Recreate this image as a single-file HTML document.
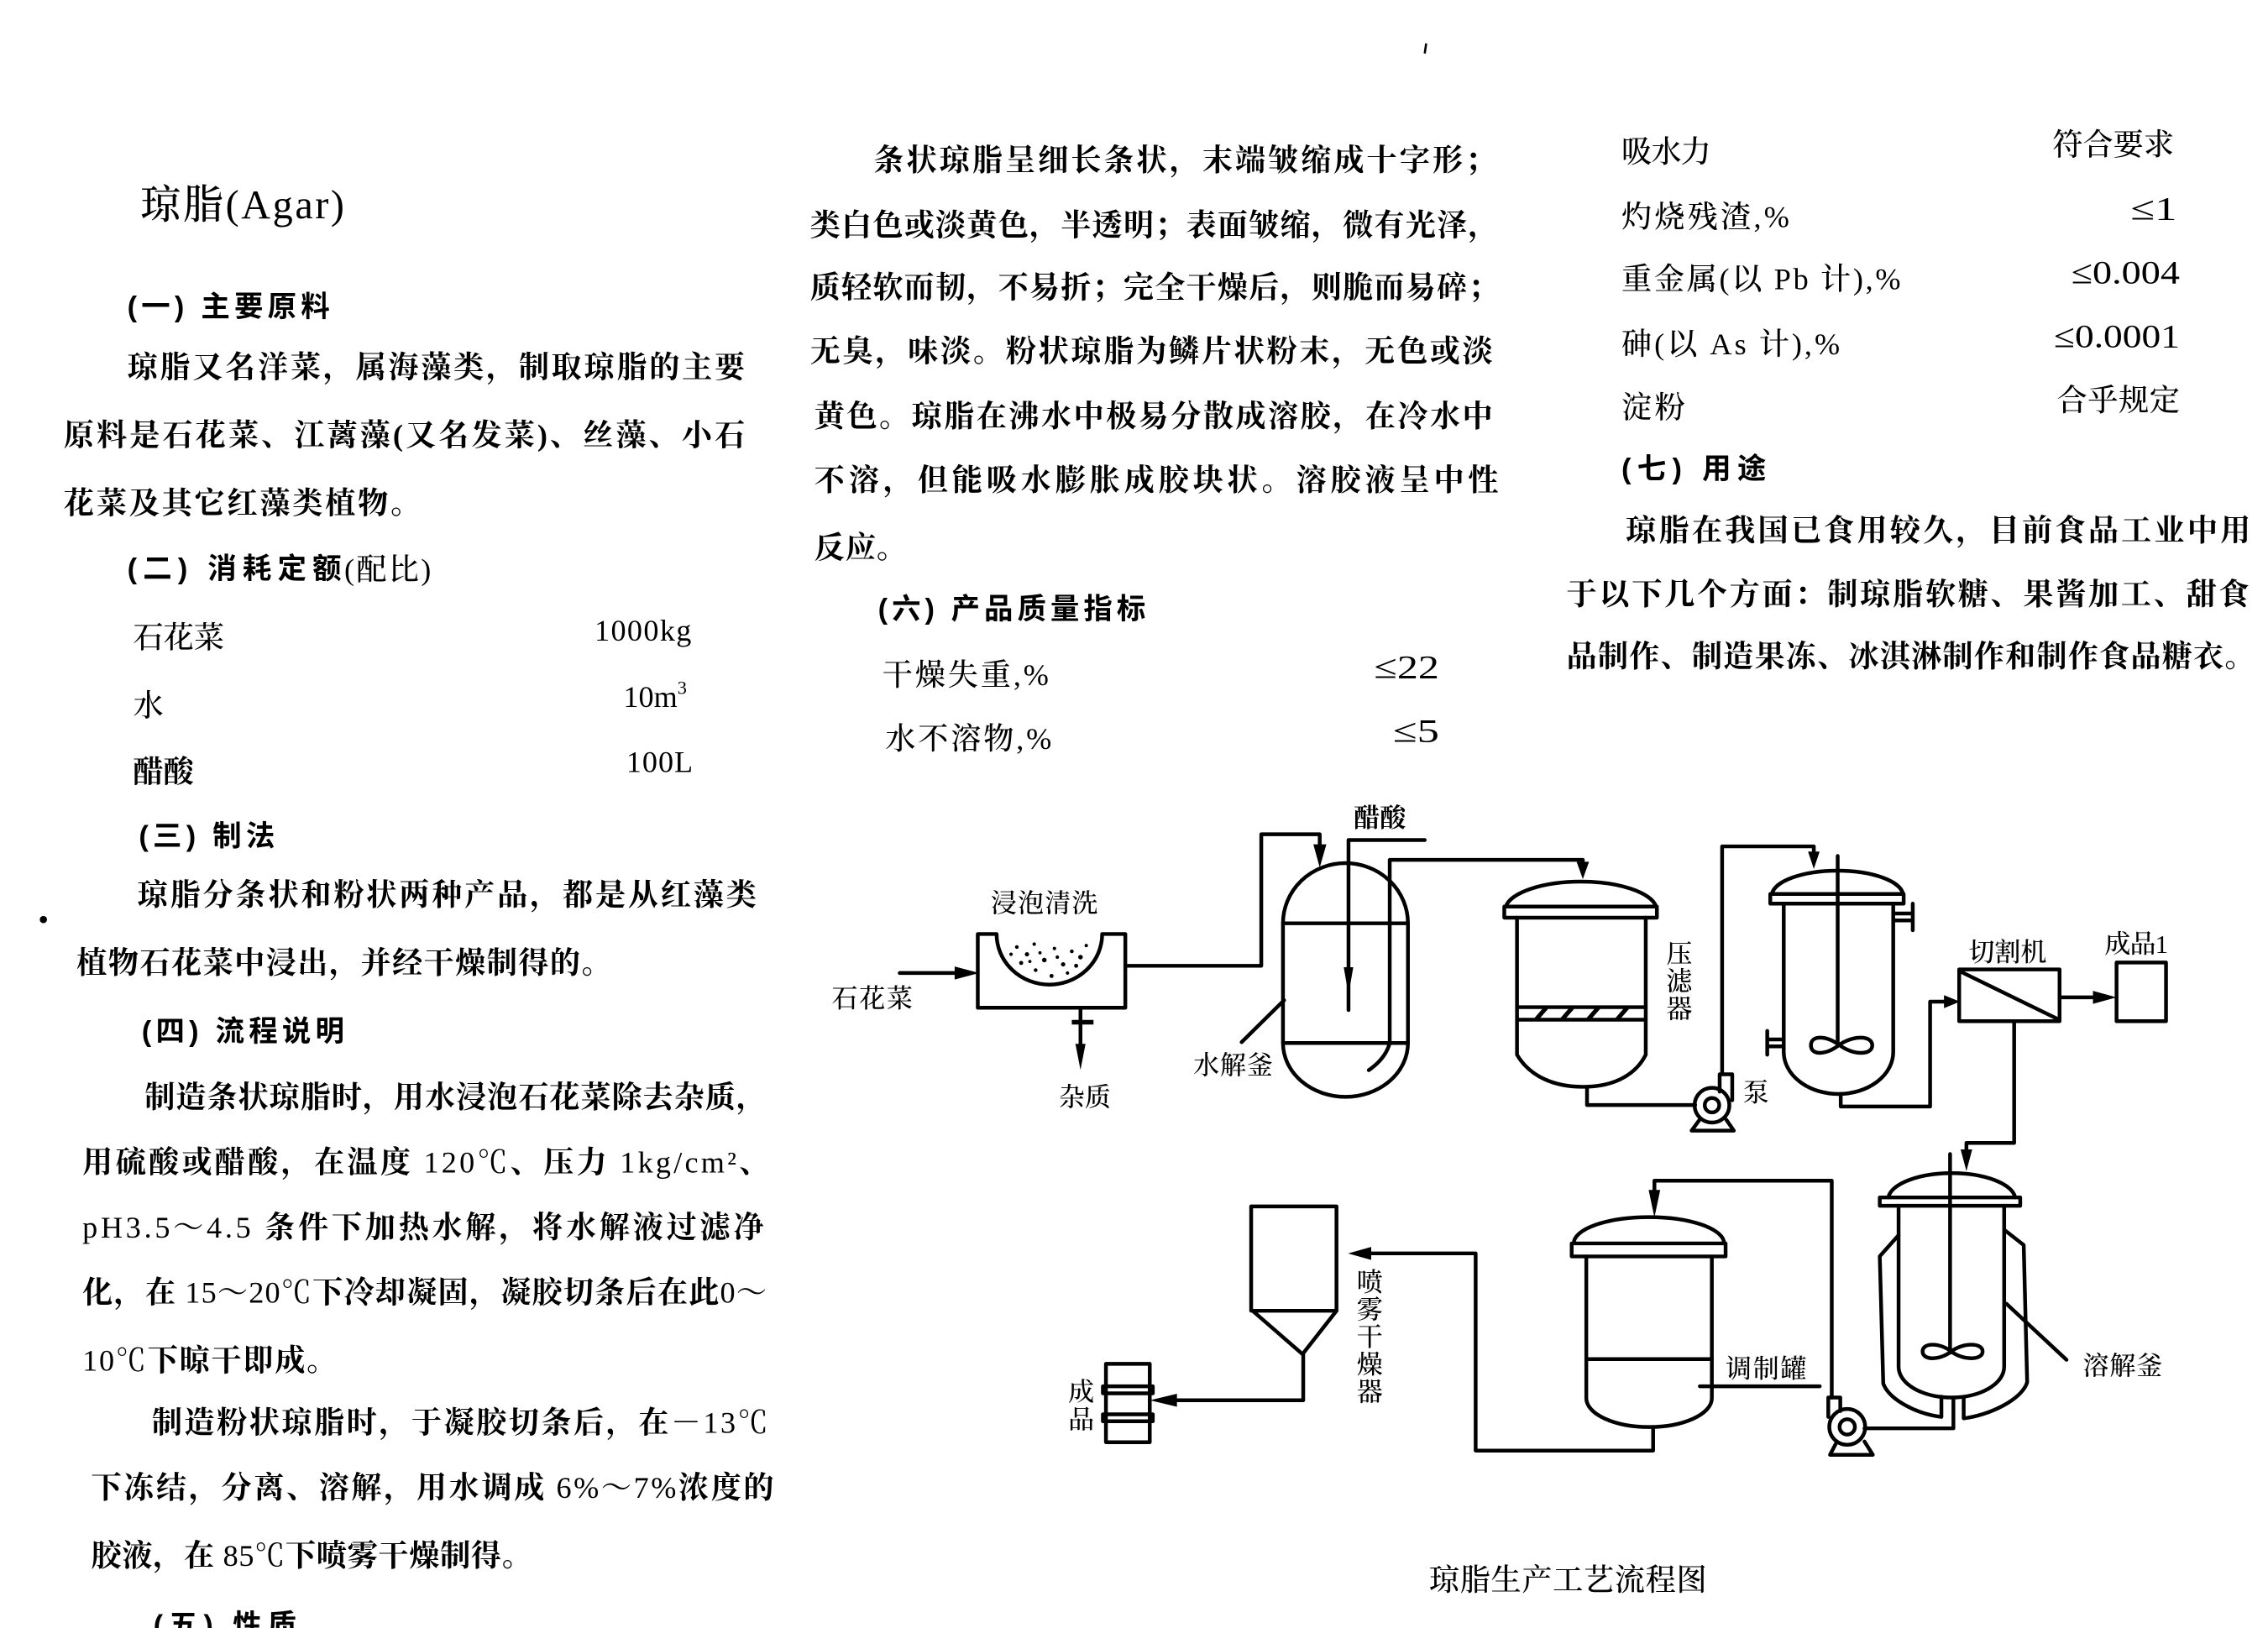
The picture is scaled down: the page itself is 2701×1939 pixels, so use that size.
<!DOCTYPE html>
<html><head><meta charset="utf-8">
<style>
html,body{margin:0;padding:0;background:#fff;}
svg{display:block;}
.b{font-family:"Liberation Serif","Noto Serif CJK SC",serif;font-size:21px;font-weight:700;fill:#000;}
.r{font-family:"Liberation Serif","Noto Serif CJK SC",serif;font-size:21px;font-weight:500;fill:#000;}
.n{font-family:"Liberation Serif","Noto Serif CJK SC",serif;font-size:21px;font-weight:400;fill:#000;}
.h{font-family:"Liberation Sans","Noto Sans CJK SC",sans-serif;font-size:20px;font-weight:700;fill:#000;}
.d{font-family:"Liberation Serif","Noto Serif CJK SC",serif;font-size:18px;font-weight:500;fill:#000;}
.s{stroke:#000;stroke-width:2.6;fill:none;stroke-linejoin:round;stroke-linecap:round;}
.f{fill:#000;stroke:none;}
.L{font-weight:400;}
</style></head>
<body>
<svg width="2701" height="1939" viewBox="0 0 1568 1126" preserveAspectRatio="none" xmlns="http://www.w3.org/2000/svg">
<rect x="0" y="0" width="1568" height="1126" fill="#fff"/>

<!-- stray marks -->
<path d="M986,30 L985,37" stroke="#000" stroke-width="1.5"/>
<circle cx="30" cy="636" r="2.5" class="f"/>

<!-- LEFT COLUMN -->
<text class="r" x="97" y="151" style="font-size:28px" textLength="141" lengthAdjust="spacing">琼脂(Agar)</text>
<text class="h" x="88" y="219" textLength="140" lengthAdjust="spacing">(一) 主要原料</text>
<text class="b" x="88" y="261" textLength="427" lengthAdjust="spacing">琼脂又名洋菜，属海藻类，制取琼脂的主要</text>
<text class="b" x="44" y="308" textLength="471" lengthAdjust="spacing">原料是石花菜、江蓠藻(又名发菜)、丝藻、小石</text>
<text class="b" x="44" y="355" textLength="247" lengthAdjust="spacing">花菜及其它红藻类植物。</text>
<text class="h" x="88" y="400" textLength="148" lengthAdjust="spacing">(二) 消耗定额</text>
<text class="r" x="238" y="401" textLength="60" lengthAdjust="spacing">(配比)</text>
<text class="r" x="92" y="448" textLength="63" lengthAdjust="spacing">石花菜</text>
<text class="n" x="411" y="443" textLength="67" lengthAdjust="spacing">1000kg</text>
<text class="r" x="92" y="495">水</text>
<text class="n" x="431" y="489">10m<tspan font-size="13" dy="-9">3</tspan></text>
<text class="b" x="92" y="541" textLength="42" lengthAdjust="spacing">醋酸</text>
<text class="n" x="433" y="534" textLength="46" lengthAdjust="spacing">100L</text>
<text class="h" x="96" y="585" textLength="94" lengthAdjust="spacing">(三) 制法</text>
<text class="b" x="95" y="626" textLength="428" lengthAdjust="spacing">琼脂分条状和粉状两种产品，都是从红藻类</text>
<text class="b" x="53" y="673" textLength="370" lengthAdjust="spacing">植物石花菜中浸出，并经干燥制得的。</text>
<text class="h" x="98" y="720" textLength="140" lengthAdjust="spacing">(四) 流程说明</text>
<text class="b" x="100" y="766" textLength="430" lengthAdjust="spacing">制造条状琼脂时，用水浸泡石花菜除去杂质，</text>
<text class="b" x="57" y="811" textLength="475" lengthAdjust="spacing">用硫酸或醋酸，在温度 <tspan class="L">120℃</tspan>、压力 <tspan class="L">1kg/cm²</tspan>、</text>
<text class="b" x="57" y="856" textLength="471" lengthAdjust="spacing"><tspan class="L">pH3.5～4.5</tspan> 条件下加热水解，将水解液过滤净</text>
<text class="b" x="57" y="901" textLength="473" lengthAdjust="spacing">化，在 <tspan class="L">15～20℃</tspan>下冷却凝固，凝胶切条后在此<tspan class="L">0～</tspan></text>
<text class="b" x="57" y="948" textLength="176" lengthAdjust="spacing"><tspan class="L">10℃</tspan>下晾干即成。</text>
<text class="b" x="105" y="991" textLength="426" lengthAdjust="spacing">制造粉状琼脂时，于凝胶切条后，在<tspan class="L">－13℃</tspan></text>
<text class="b" x="63" y="1036" textLength="472" lengthAdjust="spacing">下冻结，分离、溶解，用水调成 <tspan class="L">6%～7%</tspan>浓度的</text>
<text class="b" x="63" y="1083" textLength="305" lengthAdjust="spacing">胶液，在 <tspan class="L">85℃</tspan>下喷雾干燥制得。</text>
<text class="h" x="106" y="1131" textLength="99" lengthAdjust="spacing">(五) 性质</text>

<!-- MIDDLE COLUMN -->
<text class="b" x="604" y="118" textLength="430" lengthAdjust="spacing">条状琼脂呈细长条状，末端皱缩成十字形；</text>
<text class="b" x="560" y="163" textLength="476" lengthAdjust="spacing">类白色或淡黄色，半透明；表面皱缩，微有光泽，</text>
<text class="b" x="560" y="206" textLength="476" lengthAdjust="spacing">质轻软而韧，不易折；完全干燥后，则脆而易碎；</text>
<text class="b" x="560" y="250" textLength="472" lengthAdjust="spacing">无臭，味淡。粉状琼脂为鳞片状粉末，无色或淡</text>
<text class="b" x="563" y="295" textLength="469" lengthAdjust="spacing">黄色。琼脂在沸水中极易分散成溶胶，在冷水中</text>
<text class="b" x="563" y="339" textLength="473" lengthAdjust="spacing">不溶，但能吸水膨胀成胶块状。溶胶液呈中性</text>
<text class="b" x="563" y="386" textLength="64" lengthAdjust="spacing">反应。</text>
<text class="h" x="607" y="428" textLength="185" lengthAdjust="spacing">(六) 产品质量指标</text>
<text class="r" x="610" y="474" textLength="115" lengthAdjust="spacing">干燥失重,%</text>
<text class="n" x="950" y="469" style="font-size:23px" textLength="45" lengthAdjust="spacingAndGlyphs">≤22</text>
<text class="r" x="612" y="518" textLength="115" lengthAdjust="spacing">水不溶物,%</text>
<text class="n" x="963" y="513" style="font-size:23px" textLength="32" lengthAdjust="spacingAndGlyphs">≤5</text>

<!-- RIGHT COLUMN -->
<text class="r" x="1121" y="112" textLength="62" lengthAdjust="spacing">吸水力</text>
<text class="r" x="1419" y="107" textLength="84" lengthAdjust="spacing">符合要求</text>
<text class="r" x="1121" y="157" textLength="116" lengthAdjust="spacing">灼烧残渣,%</text>
<text class="n" x="1473" y="152" style="font-size:23px" textLength="32" lengthAdjust="spacingAndGlyphs">≤1</text>
<text class="r" x="1121" y="200" textLength="193" lengthAdjust="spacing">重金属(以 Pb 计),%</text>
<text class="n" x="1432" y="196" style="font-size:23px" textLength="75" lengthAdjust="spacingAndGlyphs">≤0.004</text>
<text class="r" x="1121" y="245" textLength="151" lengthAdjust="spacing">砷(以 As 计),%</text>
<text class="n" x="1420" y="240" style="font-size:23px" textLength="87" lengthAdjust="spacingAndGlyphs">≤0.0001</text>
<text class="r" x="1121" y="289" textLength="44" lengthAdjust="spacing">淀粉</text>
<text class="r" x="1422" y="284" textLength="85" lengthAdjust="spacing">合乎规定</text>
<text class="h" x="1121" y="331" textLength="100" lengthAdjust="spacing">(七) 用途</text>
<text class="b" x="1124" y="374" textLength="432" lengthAdjust="spacing">琼脂在我国已食用较久，目前食品工业中用</text>
<text class="b" x="1083" y="418" textLength="472" lengthAdjust="spacing">于以下几个方面：制琼脂软糖、果酱加工、甜食</text>
<text class="b" x="1083" y="461" textLength="476" lengthAdjust="spacing">品制作、制造果冻、冰淇淋制作和制作食品糖衣。</text>

<!-- ================= DIAGRAM ================= -->
<!-- soak tank -->
<path class="s" d="M676,697 V646 H689 A36.5 35 0 0 0 762,646 H778 V697 Z"/>
<g class="f">
<circle cx="703" cy="655" r="1.3"/><circle cx="710" cy="660" r="1.5"/><circle cx="715" cy="653" r="1.2"/>
<circle cx="722" cy="664" r="1.6"/><circle cx="729" cy="656" r="1.2"/><circle cx="735" cy="667" r="1.5"/>
<circle cx="741" cy="658" r="1.3"/><circle cx="747" cy="662" r="1.6"/><circle cx="751" cy="654" r="1.2"/>
<circle cx="706" cy="666" r="1.4"/><circle cx="716" cy="671" r="1.3"/><circle cx="727" cy="675" r="1.4"/>
<circle cx="738" cy="673" r="1.2"/><circle cx="744" cy="668" r="1.4"/><circle cx="699" cy="660" r="1.2"/>
<circle cx="719" cy="659" r="1.1"/><circle cx="731" cy="662" r="1.2"/><circle cx="712" cy="665" r="1.1"/>
</g>
<text class="d" x="685" y="631" textLength="74" lengthAdjust="spacing">浸泡清洗</text>
<!-- input arrow -->
<path class="s" d="M622,673 H664"/>
<polygon class="f" points="660,668.5 677,673 660,677.5"/>
<text class="d" x="575" y="697" textLength="56" lengthAdjust="spacing">石花菜</text>
<!-- outlet -->
<path class="s" d="M747,697 V726"/>
<path d="M741,707 H756" stroke="#000" stroke-width="3.2"/>
<polygon class="f" points="743.5,722 750.5,722 747,740"/>
<text class="d" x="732" y="765" textLength="36" lengthAdjust="spacing">杂质</text>
<!-- pipe to hydrolysis -->
<path class="s" d="M778,668 H872 V577 H912.4 V586"/>
<polygon class="f" points="908,584 917,584 912.4,600"/>

<!-- hydrolysis vessel -->
<path class="s" d="M887,638.6 A43.2 41.6 0 0 1 973.4,638.6 V721.4 A43.2 37.2 0 0 1 887,721.4 Z"/>
<path class="s" d="M887,638.6 H973.4 M887,721.4 H973.4"/>
<!-- acid -->
<path class="s" d="M985,581 H932.3 V698.6"/>
<polygon class="f" points="929,669 935.6,669 932.3,688"/>
<text class="d" x="936" y="572" style="font-weight:700" textLength="36" lengthAdjust="spacing">醋酸</text>
<!-- dip tube to filter -->
<path class="s" d="M946.3,740.2 Q958,732 960.8,721.4 V594.7 H1094.3 V598"/>
<polygon class="f" points="1090,596 1098.6,596 1094.3,608"/>
<!-- label 水解釜 -->
<path class="s" d="M858.4,720.8 L887.8,691.8" stroke-width="2"/>
<text class="d" x="825" y="743" textLength="55" lengthAdjust="spacing">水解釜</text>

<!-- filter -->
<path class="s" d="M1041,627 A52.5 20 0 0 1 1145,627"/>
<rect class="s" x="1040" y="627" width="105.5" height="7.7"/>
<path class="s" d="M1048.8,634.7 V729.5 C1058,745 1075,751.7 1094.3,751.7 C1113.5,751.7 1130,745 1137.8,729.5 V634.7"/>
<path class="s" d="M1048.8,696.6 H1137.8 M1048.8,705.3 H1137.8"/>
<path d="M1062,705 L1069,697 M1080,705 L1087,697 M1098,705 L1105,697 M1118,705 L1125,697" stroke="#000" stroke-width="3"/>
<path class="s" d="M1097.2,751.7 V764.3 H1172"/>
<text class="d" x="1161" y="666" text-anchor="middle">压</text>
<text class="d" x="1161" y="685" text-anchor="middle">滤</text>
<text class="d" x="1161" y="704" text-anchor="middle">器</text>

<!-- pump 1 -->
<circle class="s" cx="1183.6" cy="764.4" r="12"/>
<circle class="s" cx="1183.6" cy="764.4" r="5"/>
<path class="s" d="M1175,774.5 L1169.5,782 H1198.7 L1193.5,774.5"/>
<path class="s" d="M1188.9,755 V743 H1197.6 V761"/>
<path class="s" d="M1190.6,743 V585.4 H1254 V590"/>
<polygon class="f" points="1250,589 1258,589 1254,601"/>
<text class="d" x="1205" y="762">泵</text>

<!-- stirred tank -->
<path class="s" d="M1225,618.3 A45.5 17.5 0 0 1 1315.7,618.3"/>
<rect class="s" x="1223.9" y="618.3" width="92.2" height="6.7"/>
<path class="s" d="M1233.2,625 V727.6 A37.8 29 0 0 0 1308.9,727.6 V625"/>
<path class="s" d="M1270.5,592 V721.8" stroke-width="2"/>
<path class="s" d="M1271.6,722.7 C1262,716 1252,716 1252,723 C1252,730 1262,730 1271.6,722.7 C1281,716 1294.4,716 1294.4,723 C1294.4,730 1281,730 1271.6,722.7 Z"/>
<path class="s" d="M1308.9,631.8 H1322.4 M1308.9,636.6 H1322.4 M1322.4,625 V643.4"/>
<path class="s" d="M1233.2,718.9 H1221.8 M1233.2,723.7 H1221.8 M1221.8,713 V729.5"/>
<path class="s" d="M1272.6,756.6 V765.3 H1334.4 V692.8 H1346"/>
<polygon class="f" points="1344,688.3 1355,692.8 1344,697.3"/>

<!-- cutting machine -->
<rect class="s" x="1354.5" y="670.5" width="69.4" height="35.8"/>
<path class="s" d="M1355.5,672 L1423,705"/>
<text class="d" x="1361" y="665" textLength="54" lengthAdjust="spacing">切割机</text>
<path class="s" d="M1423.9,689.8 H1450"/>
<polygon class="f" points="1447,685.3 1463.3,689.8 1447,694.3"/>
<rect class="s" x="1463.3" y="665.7" width="34.2" height="40.6"/>
<text class="d" x="1455" y="659" textLength="44" lengthAdjust="spacing">成品1</text>
<path class="s" d="M1392.5,706.3 V790.5 H1359.5 V798"/>
<polygon class="f" points="1355.5,795 1363.5,795 1359.5,810"/>

<!-- dissolving kettle -->
<path class="s" d="M1305.5,828.2 A44 18.3 0 0 1 1393.2,828.2"/>
<rect class="s" x="1299.6" y="828.2" width="97.1" height="5.8"/>
<path class="s" d="M1312.6,834 V945.3 A36.5 21.3 0 0 0 1385.6,945.3 V834"/>
<path class="s" d="M1312.6,854.3 L1299.6,868.9 L1302,956.9 C1306,968 1325,978 1342.2,980 V966"/>
<path class="s" d="M1385.6,850.5 L1399.1,861.1 L1401.5,956 C1398,968 1375,979 1357.6,981 V967"/>
<path class="s" d="M1350.5,966.6 V987.9 H1289"/>
<path class="s" d="M1348.2,798.2 V935.6" stroke-width="2"/>
<path class="s" d="M1349,934.7 C1341,928.5 1329.2,928.5 1329.2,934.7 C1329.2,941 1341,941 1349,934.7 C1357,928.5 1370.7,928.5 1370.7,934.7 C1370.7,941 1357,941 1349,934.7 Z"/>
<path class="s" d="M1387.2,901.8 L1428.7,940.5" stroke-width="2"/>
<text class="d" x="1440" y="951" textLength="55" lengthAdjust="spacing">溶解釜</text>

<!-- pump 2 -->
<circle class="s" cx="1277.1" cy="986.9" r="12.4"/>
<circle class="s" cx="1277.1" cy="986.9" r="5.3"/>
<path class="s" d="M1270,997 L1265.2,1006.2 H1294.8 L1289,997"/>
<path class="s" d="M1264,980 V966.6 H1272.3 V976"/>
<path class="s" d="M1266.4,966.6 V816.6 H1143.8 V825"/>
<polygon class="f" points="1139.8,823 1147.8,823 1143.8,842"/>

<!-- blending tank -->
<path class="s" d="M1088,860 A52 18.2 0 0 1 1192,860"/>
<rect class="s" x="1086.6" y="860" width="106.4" height="9"/>
<path class="s" d="M1096.7,869 V967 A43.4 20 0 0 0 1183.5,967 V869"/>
<path class="s" d="M1096.7,940 H1183.5"/>
<text class="d" x="1193" y="953" textLength="56" lengthAdjust="spacing">调制罐</text>
<path class="s" d="M1175.2,958.8 H1258.1" stroke-width="2"/>
<path class="s" d="M1142.9,987 V1003.3 H1020.2 V866.9 H945"/>
<polygon class="f" points="948,862.4 932,866.9 948,871.4"/>

<!-- spray dryer -->
<rect class="s" x="865" y="834.4" width="59" height="72.2"/>
<path class="s" d="M866,906.6 L900.5,936.6 L924,906.6"/>
<path class="s" d="M901,936.6 V968.5 H810"/>
<polygon class="f" points="813.7,964 795,968.5 813.7,973"/>
<text class="d" x="947" y="893" text-anchor="middle">喷</text>
<text class="d" x="947" y="912" text-anchor="middle">雾</text>
<text class="d" x="947" y="931" text-anchor="middle">干</text>
<text class="d" x="947" y="950" text-anchor="middle">燥</text>
<text class="d" x="947" y="969" text-anchor="middle">器</text>

<!-- product container -->
<rect class="s" x="764.6" y="943.3" width="30.3" height="54.2"/>
<rect class="s" x="762.5" y="958.8" width="34.5" height="4.9" fill="#fff"/>
<rect class="s" x="762.5" y="978.2" width="34.5" height="4.8" fill="#fff"/>
<text class="d" x="747.5" y="969" text-anchor="middle">成</text>
<text class="d" x="747.5" y="988" text-anchor="middle">品</text>

<!-- caption -->
<text class="r" x="988" y="1100" textLength="192" lengthAdjust="spacing">琼脂生产工艺流程图</text>
</svg>
</body></html>
